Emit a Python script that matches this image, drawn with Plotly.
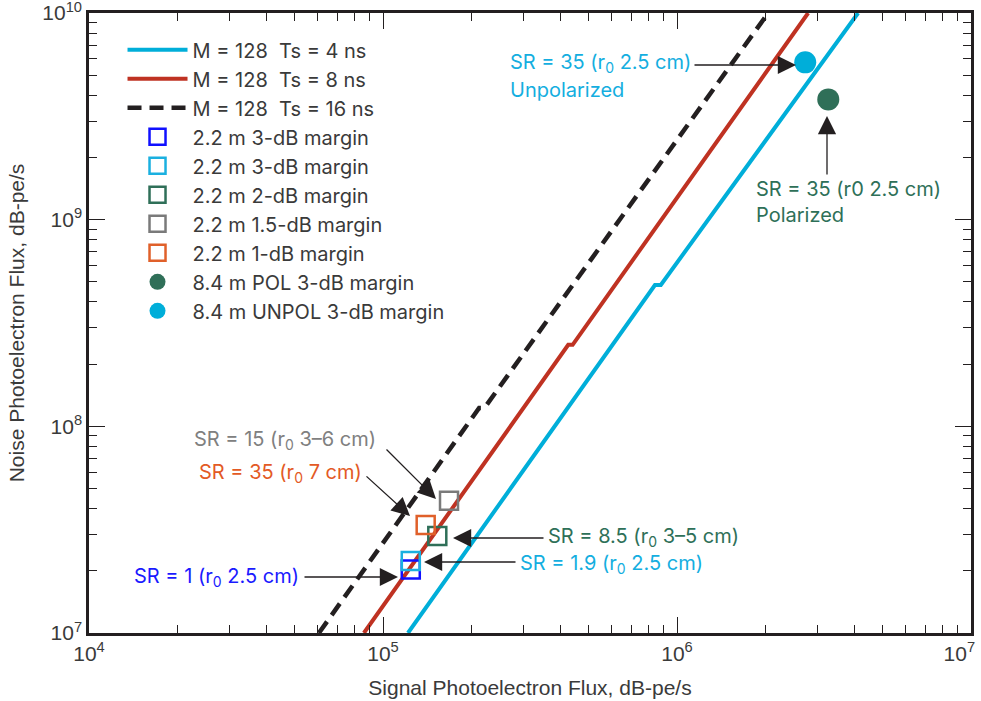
import math
import plotly.graph_objects as go

# ---------------- data ----------------
# threshold lines (signal flux, noise flux)
sig_ts4 = [121600, 841400, 881000, 4130000]
noise_ts4 = [1.0e7, 4.83e8, 4.83e8, 1.0e10]
sig_ts8 = [86100, 426600, 441600, 2793000]
noise_ts8 = [1.0e7, 2.48e8, 2.48e8, 1.0e10]
sig_ts16 = [60530, 212300, 221300, 2042000]
noise_ts16 = [1.0e7, 1.227e8, 1.227e8, 1.0e10]

line_names = ["M = 128  Ts = 4 ns", "M = 128  Ts = 8 ns", "M = 128  Ts = 16 ns"]

# measured points
sq_names = ["2.2 m 3-dB margin", "2.2 m 3-dB margin", "2.2 m 2-dB margin",
            "2.2 m 1.5-dB margin", "2.2 m 1-dB margin"]
sq_signal = [1.243e5, 1.243e5, 1.530e5, 1.677e5, 1.397e5]
sq_noise = [2.03e7, 2.23e7, 2.95e7, 4.36e7, 3.33e7]

circ_names = ["8.4 m POL 3-dB margin", "8.4 m UNPOL 3-dB margin"]
circ_signal = [3.27e6, 2.73e6]
circ_noise = [3.82e9, 5.77e9]

x_tick_vals = [1e4, 1e5, 1e6, 1e7]
x_tick_text = ["10<sup>4</sup>", "10<sup>5</sup>", "10<sup>6</sup>",
               "10<sup>7</sup>\u00a0\u00a0\u00a0\u00a0"]
y_tick_vals = [1e7, 1e8, 1e9, 1e10]
y_tick_text = ["10<sup>7</sup>", "10<sup>8</sup>", "10<sup>9</sup>", "10<sup>10</sup>"]

# ---------------- styles ----------------
CYAN = "#00aed9"
RED = "#bf3222"
BLACK = "#231f20"
sq_colors = ["#1010ff", "#1ab0e0", "#2f6f58", "#7a7a7a", "#e0602a"]
circ_colors = ["#2f6f58", "#00aed9"]
TEXT = "#3a3a3a"
FONT = "Inter, Liberation Sans, Arial, sans-serif"
NARROW = "Liberation Sans Narrow, Arial Narrow, Liberation Sans, Arial, sans-serif"

fig = go.Figure()

for i, (sx, sy, c, dash, w) in enumerate([
        (sig_ts4, noise_ts4, CYAN, "solid", 4),
        (sig_ts8, noise_ts8, RED, "solid", 4),
        (sig_ts16, noise_ts16, BLACK, "14px,8px", 4.5)]):
    fig.add_trace(go.Scatter(x=sx, y=sy, mode="lines", name=line_names[i],
                             line=dict(color=c, width=w, dash=dash)))

for j in range(len(sq_names)):
    fig.add_trace(go.Scatter(x=[sq_signal[j]], y=[sq_noise[j]], mode="markers",
                             name=sq_names[j],
                             marker=dict(symbol="square-open", size=18,
                                         color=sq_colors[j],
                                         line=dict(color=sq_colors[j], width=2.5))))

for k in range(len(circ_names)):
    fig.add_trace(go.Scatter(x=[circ_signal[k]], y=[circ_noise[k]], mode="markers",
                             name=circ_names[k],
                             marker=dict(symbol="circle", size=22, color=circ_colors[k])))

# ---------------- annotations ----------------
def lx(px):
    return 4 + (px - 89) / 294.0

def ly(py):
    return 10 - (py - 13) / (620 / 3.0)

arrows = [  # (tail px, tail py, head px, head py)
    (693, 65, 796, 65),
    (827, 176, 827, 116),
    (385, 448, 436, 499),
    (365, 475, 410, 516),
    (303, 577, 398, 577),
    (545, 538, 453, 538),
    (517, 562, 424, 562),
]
for (tx, ty, hx, hy) in arrows:
    fig.add_annotation(x=lx(hx), y=ly(hy), ax=lx(tx), ay=ly(ty),
                       xref="x", yref="y", axref="x", ayref="y",
                       text="", showarrow=True, arrowhead=2, arrowsize=2.8,
                       arrowwidth=1.3, arrowcolor=BLACK)

labels = [  # (text, left px, center py, color)
    ("SR = 35 (r<sub>0</sub> 2.5 cm)", 508, 63, "#14aee0"),
    ("Unpolarized", 508, 90, "#14aee0"),
    ("SR = 35 (r0 2.5 cm)", 754, 189, "#2e7058"),
    ("Polarized", 754, 215, "#2e7058"),
    ("SR = 15 (r<sub>0</sub> 3–6 cm)", 192, 440, "#808080"),
    ("SR = 35 (r<sub>0</sub> 7 cm)", 197, 473, "#e35a25"),
    ("SR = 1 (r<sub>0</sub> 2.5 cm)", 132, 577, "#1a1aff"),
    ("SR = 8.5 (r<sub>0</sub> 3–5 cm)", 546, 537, "#2e7058"),
    ("SR = 1.9 (r<sub>0</sub> 2.5 cm)", 518, 564, "#14aee0"),
]
for (t, px, py, c) in labels:
    fig.add_annotation(x=lx(px), y=ly(py), xref="x", yref="y", text=t,
                       showarrow=False, xanchor="left", yanchor="middle",
                       font=dict(family=FONT, size=20, color=c))

axis_common = dict(
    type="log", showgrid=False, zeroline=False, automargin=False,
    showline=True, linecolor=BLACK, linewidth=2.5, mirror="ticks",
    ticks="inside", ticklen=16, tickwidth=1.2, tickcolor=BLACK,
    minor=dict(ticks="inside", ticklen=8, tickwidth=1.2, tickcolor=BLACK, dtick="D1"),
    tickfont=dict(family=NARROW, size=21, color=TEXT),
    ticklabeloverflow="allow",
)

fig.update_xaxes(range=[3.99999, 7.00001], tickvals=x_tick_vals, ticktext=x_tick_text,
                 title=dict(text="Signal Photoelectron Flux, dB-pe/s",
                            font=dict(family=NARROW, size=21, color=TEXT), standoff=17),
                 **axis_common)
fig.update_yaxes(range=[6.99999, 10.00001], tickvals=y_tick_vals, ticktext=y_tick_text,
                 title=dict(text="Noise Photoelectron Flux, dB-pe/s",
                            font=dict(family=NARROW, size=21, color=TEXT), standoff=12),
                 **axis_common)

fig.update_layout(
    width=981, height=701,
    margin=dict(l=89, r=10, t=13, b=68),
    paper_bgcolor="white", plot_bgcolor="white",
    showlegend=True,
    legend=dict(x=0.038, y=0.972, xanchor="left", yanchor="top",
                bgcolor="rgba(0,0,0,0)", borderwidth=0,
                font=dict(family=FONT, size=20, color=TEXT),
                itemwidth=60, tracegroupgap=0, itemsizing="trace"),
)

fig.write_html("out.html")
